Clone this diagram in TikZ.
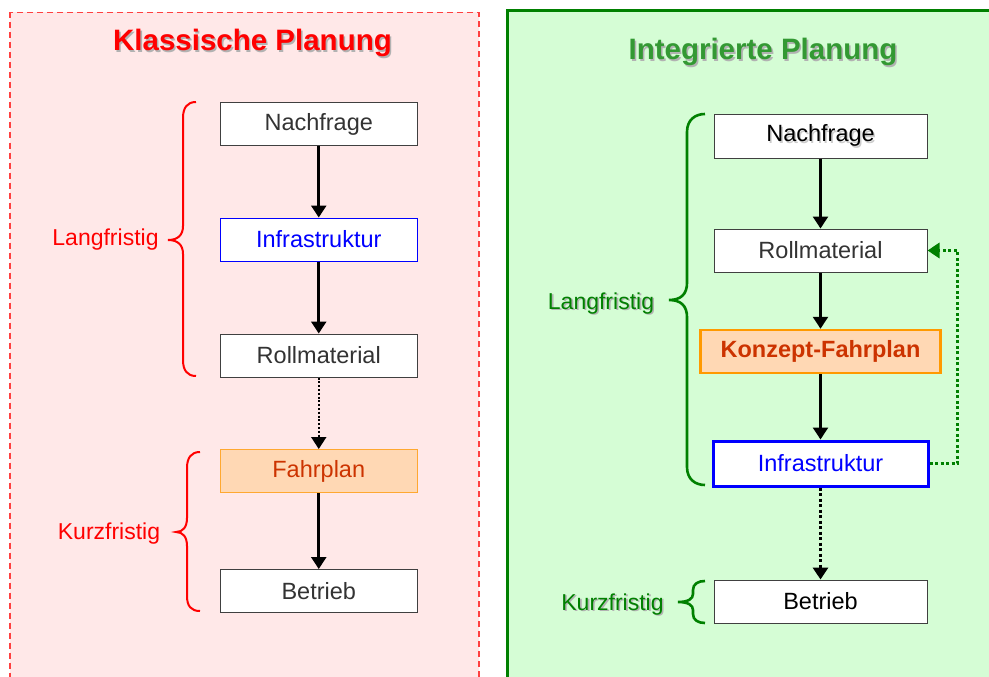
\documentclass[tikz,border=0pt]{standalone}
\usepackage{fontspec}
\setmainfont{Liberation Sans}
\usetikzlibrary{arrows.meta}
\definecolor{pinkbg}{HTML}{FFE8E8}
\definecolor{greenbg}{HTML}{D5FDD5}
\definecolor{tgreen}{HTML}{339933}
\definecolor{dgreen}{HTML}{008000}
\definecolor{peach}{HTML}{FFD8B4}
\definecolor{orangeb}{HTML}{FF9900}
\definecolor{orangel}{HTML}{FFA830}
\definecolor{rusttext}{HTML}{CC3300}
\definecolor{boxgray}{HTML}{404040}
\definecolor{textgray}{HTML}{333333}
\definecolor{dashred}{HTML}{FF4040}
\newcommand\shtext[2][black!30]{\rlap{\hspace{1.6pt}\raisebox{-1.6pt}{\textcolor{#1}{#2}}}#2}
\begin{document}
\begin{tikzpicture}[x=1pt,y=-1pt,
  box/.style={draw=boxgray, line width=1pt, fill=white, minimum width=197pt, minimum height=43pt, inner sep=0pt, font=\fontsize{23.5}{27}\selectfont, text=textgray},
  rbox/.style={box, minimum width=213pt, text=black},
  arr/.style={line width=2.6pt, -{Triangle[width=15pt,length=12pt]}},
  ldot/.style={arr, line width=2pt, dash pattern=on 2pt off 1.8pt},
  rdot/.style={arr, line width=3pt, dash pattern=on 3pt off 2.5pt},
  lbl/.style={anchor=base, font=\fontsize{23}{27}\selectfont},
  ttl/.style={anchor=base, font=\fontsize{29.5}{34}\selectfont\bfseries}
]
\useasboundingbox (0,0) rectangle (989,677);
\fill[white] (0,0) rectangle (989,677);
% panels
\draw[dashred, line width=1.5pt, dash pattern=on 6pt off 4pt, fill=pinkbg] (10,12.5) rectangle (479,720);
\draw[dgreen, line width=3pt, fill=greenbg] (507,11) rectangle (1010,720);
% titles
\node[ttl, text=red] (ltitle) at (252.5,51) {\shtext{Klassische Planung}};
\node[ttl, text=tgreen] (rtitle) at (763,60) {\shtext{Integrierte Planung}};
% left column
\node[box] (lnach) at (318.75,124) {Nachfrage};
\node[box, draw=blue, text=blue] (linf) at (318.75,239.5) {Infrastruktur};
\node[box] (lroll) at (318.75,355.5) {Rollmaterial};
\node[box, draw=orangel, fill=peach, text=rusttext] (lfahr) at (318.75,471) {Fahrplan};
\node[box] (lbet) at (318.75,591) {Betrieb};
\draw[arr] (lnach) -- (linf);
\draw[arr] (linf) -- (lroll);
\draw[ldot] (lroll) -- (lfahr);
\draw[arr] (lfahr) -- (lbet);
% left braces and labels
\draw[red, line width=2pt] (196,102) .. controls (187,102) and (183,108) .. (183,118) -- (183,226) .. controls (183,235) and (178,240) .. (168,240) .. controls (178,240) and (183,245) .. (183,254) -- (183,360) .. controls (183,370) and (187,376) .. (196,376);
\draw[red, line width=2pt] (200,452) .. controls (191,452) and (187,458) .. (187,468) -- (187,518) .. controls (187,527) and (183,532) .. (176,532) .. controls (183,532) and (187,537) .. (187,546) -- (187,596) .. controls (187,606) and (191,611) .. (200,611);
\node[lbl, text=red] (llang) at (105.5,245) {Langfristig};
\node[lbl, text=red] (lkurz) at (109,539) {Kurzfristig};
% right column
\node[rbox] (rnach) at (820.5,136.5) {\shtext[black!20]{Nachfrage}};
\node[rbox, text=textgray] (rroll) at (820.5,250.5) {Rollmaterial};
\node[rbox, draw=orangeb, line width=2.5pt, fill=peach, text=rusttext, minimum width=240pt, font=\fontsize{23.5}{27}\selectfont\bfseries] (rkon) at (820.5,351.5) {Konzept-Fahrplan};
\node[rbox, draw=blue, line width=3pt, text=blue, minimum width=215pt, minimum height=45pt] (rinf) at (820.5,463.5) {Infrastruktur};
\node[rbox] (rbet) at (820.5,601.5) {Betrieb};
\draw[arr] (rnach) -- (rroll);
\draw[arr] (rroll) -- (rkon);
\draw[arr] (rkon) -- (rinf);
\draw[rdot] (rinf) -- (rbet);
\coordinate (fb) at (957.5,350);
\draw[rdot, dgreen] (rinf.east) -- (rinf.east -| fb) |- (rroll.east);
% right braces and labels
\draw[dgreen, line width=2.6pt] (705,114) .. controls (695,114) and (687,120) .. (687,132) -- (687,283) .. controls (687,294) and (681,300) .. (669,300) .. controls (681,300) and (687,306) .. (687,317) -- (687,467) .. controls (687,479) and (695,485) .. (705,485);
\draw[dgreen, line width=2.6pt] (705,581) .. controls (698,581) and (693,584) .. (693,590) -- (693,594) .. controls (693,599) and (688,602) .. (678,602) .. controls (688,602) and (693,605) .. (693,610) -- (693,614) .. controls (693,620) and (698,623) .. (705,623);
\node[lbl, text=dgreen] (rlang) at (601,309) {\shtext{Langfristig}};
\node[lbl, text=dgreen] (rkurz) at (612.5,610) {\shtext{Kurzfristig}};
\end{tikzpicture}
\end{document}
